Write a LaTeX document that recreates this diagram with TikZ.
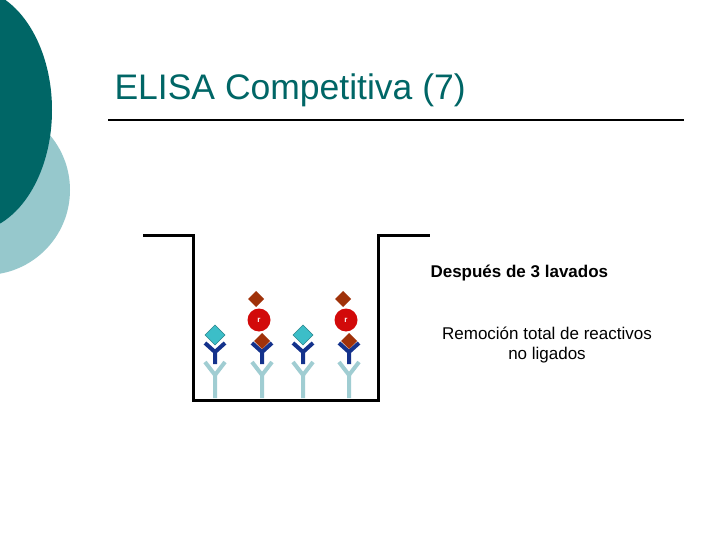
\documentclass[tikz,border=0pt]{standalone}
\usepackage{fontspec}
\setmainfont{Liberation Sans}
\usetikzlibrary{positioning}
\definecolor{darkteal}{RGB}{0,102,102}
\definecolor{lightteal}{RGB}{150,200,204}
\definecolor{capab}{RGB}{160,205,210}
\definecolor{detab}{RGB}{20,50,140}
\definecolor{cyanag}{RGB}{60,190,200}
\definecolor{brownag}{RGB}{160,50,10}
\definecolor{redlab}{RGB}{210,10,10}
\begin{document}
\begin{tikzpicture}[x=1pt,y=-1pt]
    % Define styles
    \tikzset{capture/.style={line width=4pt, draw=capab},
      detect/.style={line width=4pt, draw=detab},
      well/.style={line width=3pt, draw=black},
      lbl/.style={font=\fontsize{17}{20}\selectfont, align=center}}
    \useasboundingbox (0,0) rectangle (720,540);
    \fill[white] (0,0) rectangle (720,540);
    % Decoration
    \fill[lightteal] (-15,190) circle (85);
    \fill[darkteal] (-30,110) ellipse (82 and 122);
    \node[anchor=west, text=darkteal, font=\fontsize{35.5}{42}\selectfont] (title) at (111,90) {ELISA Competitiva (7)};
    \draw[line width=1.5pt] (108,120) -- (684,120);
    % Well
    \draw[well] (143,235) -- (193,235) -- (193,400) -- (378,400) -- (378,235) -- (430,235);
    % Antibodies
    \foreach \x in {215,262,303,349} {
      \draw[capture] (\x,398) -- (\x,375) -- (\x-10,362);
      \draw[capture] (\x,375) -- (\x+10,362);
      \draw[detect] (\x,364) -- (\x,352) -- (\x-10,343);
      \draw[detect] (\x,352) -- (\x+10,343);
    }
    \foreach \x in {215,303}
      \fill[cyanag, draw=cyanag!70!black, line width=0.4pt] (\x,325) -- (\x+10,335) -- (\x,345) -- (\x-10,335) -- cycle;
    \foreach \x in {262,349} {
      \fill[brownag] (\x,333) -- (\x+8,341) -- (\x,349) -- (\x-8,341) -- cycle;
      \fill[redlab] (\x-3,320) circle (11.5);
      \node[text=white, font=\bfseries\fontsize{8}{8}\selectfont] at (\x-3,320) {r};
      \fill[brownag] (\x-6,291) -- (\x+2,299) -- (\x-6,307) -- (\x-14,299) -- cycle;
    }
    % Texts
    \node[anchor=west, font=\bfseries\fontsize{17}{20}\selectfont] (step) at (427,273) {Después de 3 lavados};
    \node[lbl] (note) at (547,345) {Remoción total de reactivos\\no ligados};
\end{tikzpicture}
\end{document}
